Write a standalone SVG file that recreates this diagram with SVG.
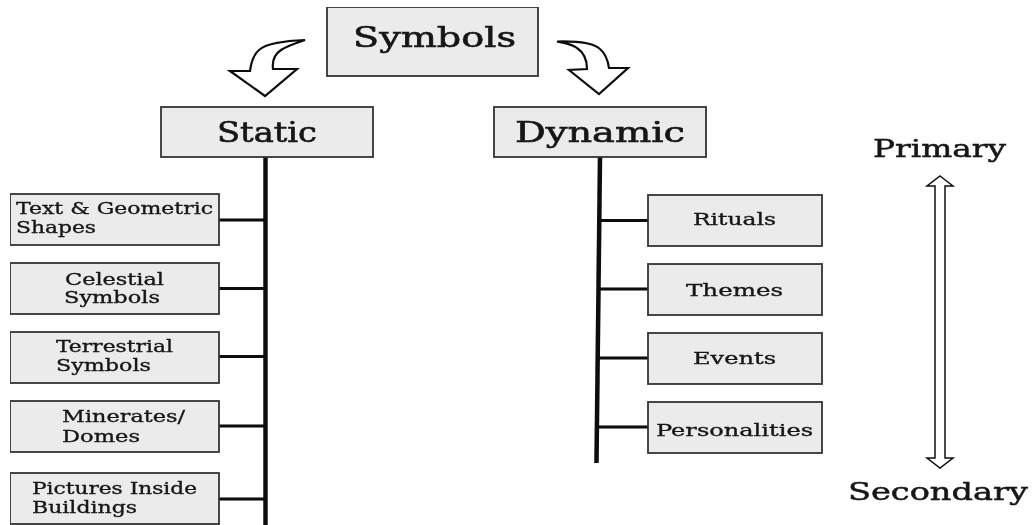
<svg xmlns="http://www.w3.org/2000/svg" width="1033" height="525" viewBox="0 0 1033 525">
<style>
.box{fill:#ebebeb;stroke:#333;stroke-width:1.8}
text{font-family:"DejaVu Serif","Liberation Serif",serif;fill:#151515;stroke:#151515}
.s{font-size:17.5px;stroke-width:.35px}
.l{font-size:28px;stroke-width:.6px}
.m{font-size:24.500px;stroke-width:.5px}
.conn{stroke:#0a0a0a;fill:none}
.arrow{fill:#fff;stroke:#111;stroke-width:2.2;stroke-linejoin:miter}
.thin{stroke-width:1.5}
</style>
<defs><filter id="soft" x="0" y="0" width="100%" height="100%"><feGaussianBlur stdDeviation="0.45"/></filter></defs>
<rect width="1033" height="525" fill="#fff"/>
<g filter="url(#soft)">
<g id="connectors">
<path class="conn" stroke-width="4.5" d="M265.500 157V525"/>
<path class="conn" stroke-width="3" d="M219 220H265M219 288.500H265M219 356.500H265M219 426H265M219 499H265"/>
<path class="conn" stroke-width="4.500" d="M600 157L596.500 463"/>
<path class="conn" stroke-width="3.200" d="M600 220.500H648M599.500 289H648M599 358H648M598 427H648"/>
</g>
<g id="arrow-left"><path class="arrow" d="M305 40C284 41 267 43 259 50C253 55 251 63 250 71H230L265 96L297 69H273C272 61 275 54 281 50C287 46 296 43 305 40Z"/></g>
<g id="arrow-right"><path class="arrow" d="M557 41.500C575 41 592 42 600 49C606 54 608 61 609 68H628L599 94L569 70L587 69C587 59 583 52 577 48C572 44 565 43 557 41.500Z"/></g>
<g id="node-symbols"><rect class="box" x="327" y="7" width="211" height="69"/><text class="l" x="353" y="47" textLength="163" lengthAdjust="spacingAndGlyphs">Symbols</text></g>
<g id="node-static"><rect class="box" x="161" y="107" width="212" height="50"/><text class="l" x="217" y="142" textLength="100" lengthAdjust="spacingAndGlyphs">Static</text></g>
<g id="node-dynamic"><rect class="box" x="494" y="107" width="212" height="50"/><text class="l" x="515" y="142" textLength="170" lengthAdjust="spacingAndGlyphs">Dynamic</text></g>
<g id="node-text-geometric"><rect class="box" x="10" y="194" width="209" height="51"/><text class="s" x="16" y="214" textLength="197" lengthAdjust="spacingAndGlyphs">Text &amp; Geometric</text><text class="s" x="16" y="233" textLength="80" lengthAdjust="spacingAndGlyphs">Shapes</text></g>
<g id="node-celestial"><rect class="box" x="10" y="263" width="209" height="51"/><text class="s" x="65" y="285" textLength="99" lengthAdjust="spacingAndGlyphs">Celestial</text><text class="s" x="64" y="303" textLength="96" lengthAdjust="spacingAndGlyphs">Symbols</text></g>
<g id="node-terrestrial"><rect class="box" x="10" y="332" width="209" height="51"/><text class="s" x="56" y="352" textLength="117" lengthAdjust="spacingAndGlyphs">Terrestrial</text><text class="s" x="56" y="371" textLength="95" lengthAdjust="spacingAndGlyphs">Symbols</text></g>
<g id="node-minerates"><rect class="box" x="10" y="401" width="209" height="51"/><text class="s" x="62" y="422" textLength="123" lengthAdjust="spacingAndGlyphs">Minerates/</text><text class="s" x="62" y="442" textLength="78" lengthAdjust="spacingAndGlyphs">Domes</text></g>
<g id="node-pictures"><rect class="box" x="10" y="473" width="209" height="51"/><text class="s" x="32" y="494" textLength="165" lengthAdjust="spacingAndGlyphs">Pictures Inside</text><text class="s" x="32" y="513" textLength="105" lengthAdjust="spacingAndGlyphs">Buildings</text></g>
<g id="node-rituals"><rect class="box" x="648" y="195" width="174" height="51"/><text class="s" x="693" y="225" textLength="83" lengthAdjust="spacingAndGlyphs">Rituals</text></g>
<g id="node-themes"><rect class="box" x="648" y="264" width="174" height="51"/><text class="s" x="686" y="296" textLength="97" lengthAdjust="spacingAndGlyphs">Themes</text></g>
<g id="node-events"><rect class="box" x="648" y="333" width="174" height="51"/><text class="s" x="693" y="364" textLength="83" lengthAdjust="spacingAndGlyphs">Events</text></g>
<g id="node-personalities"><rect class="box" x="648" y="402" width="174" height="51"/><text class="s" x="656" y="436" textLength="157" lengthAdjust="spacingAndGlyphs">Personalities</text></g>
<g id="scale-arrow"><path class="arrow thin" d="M940 176L953 186H945V458H953L940 468L927 458H935V186H927Z"/></g>
<g id="label-primary"><text class="m" x="873" y="157" textLength="133" lengthAdjust="spacingAndGlyphs">Primary</text></g>
<g id="label-secondary"><text class="m" x="848" y="500" textLength="180" lengthAdjust="spacingAndGlyphs">Secondary</text></g>
</g>
</svg>
